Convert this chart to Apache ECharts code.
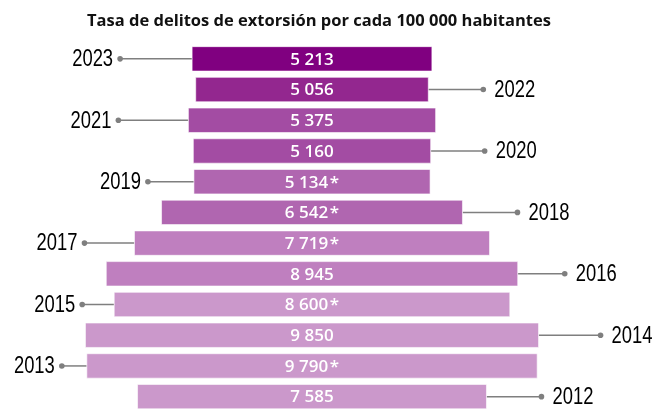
<!DOCTYPE html>
<html>
<head>
<meta charset="utf-8">
<script src="https://cdn.jsdelivr.net/npm/echarts@6/dist/echarts.min.js"></script>
<style>html,body{margin:0;padding:0;background:#fff}#c{width:654px;height:412px}</style>
</head>
<body>
<div id="c"></div>
<script>
// Data (top to bottom)
const years = ['2023','2022','2021','2020','2019','2018','2017','2016','2015','2014','2013','2012'];
const rates = [5213, 5056, 5375, 5160, 5134, 6542, 7719, 8945, 8600, 9850, 9790, 7585];
const preliminary = [false, false, false, false, true, true, true, false, true, false, true, false];

// Styling / layout (not data)
const barColors = ['#800080','#93278f','#a34ca3','#a34ca3','#b066b0','#b066b0','#bf7fbf','#bf7fbf','#cb98cb','#cb98cb','#cb98cb','#cb98cb'];
const leaderLen = [72, 55, 70, 54, 46, 55, 50, 47, 32, 62, 25, 55];

function fmt(v) { return String(v).replace(/\B(?=(\d{3})+(?!\d))/g, ' '); }

const chart = echarts.init(document.getElementById('c'), null, {renderer: 'canvas'});
chart.setOption({
  animation: false,
  title: {
    text: 'Tasa de delitos de extorsión por cada 100 000 habitantes',
    left: 82, top: 8,
    textStyle: {fontFamily: 'Open Sans', fontWeight: 'bold', fontSize: 16.5, color: '#111'}
  },
  grid: {left: 13, width: 598, top: 43.5, height: 369.8},
  xAxis: {type: 'value', min: -6500, max: 6500, show: false},
  yAxis: {type: 'category', data: years, inverse: true, show: false},
  series: [{
    type: 'custom',
    data: rates.map((v, i) => [v, i]),
    encode: {x: 0, y: 1},
    renderItem: function (params, api) {
      const i = params.dataIndex;
      const v = api.value(0);
      const cat = api.value(1);
      const l = api.coord([-v / 2, cat]);
      const r = api.coord([v / 2, cat]);
      const y = l[1];
      const h = api.size([0, 1])[1] * 0.795;
      const leftSide = i % 2 === 0;
      const ex = leftSide ? l[0] : r[0];
      const dx = leftSide ? ex - leaderLen[i] : ex + leaderLen[i];
      const children = [
        {type: 'line', shape: {x1: ex, y1: y, x2: dx, y2: y}, style: {stroke: '#7f7f7f', lineWidth: 1.5}},
        {type: 'circle', shape: {cx: dx, cy: y, r: 2.8}, style: {fill: '#7f7f7f'}},
        {type: 'rect', shape: {x: l[0], y: y - h / 2, width: r[0] - l[0], height: h},
          style: {fill: barColors[i], stroke: 'rgba(255,255,255,0.6)', lineWidth: 1}},
        {type: 'text', x: (l[0] + r[0]) / 2, y: y + 1,
          style: {text: fmt(v) + (preliminary[i] ? '\u200A*' : ''), fill: '#fff',
            font: '600 17px "Open Sans"', align: 'center', verticalAlign: 'middle'}},
        {type: 'text', x: leftSide ? dx - 7 : dx + 11, y: y + 1, scaleX: 0.8,
          style: {text: years[i], fill: '#000', font: '23px "Liberation Sans", Arial, sans-serif',
            align: leftSide ? 'right' : 'left', verticalAlign: 'middle'}}
      ];
      return {type: 'group', children: children};
    }
  }]
});
</script>
</body>
</html>
